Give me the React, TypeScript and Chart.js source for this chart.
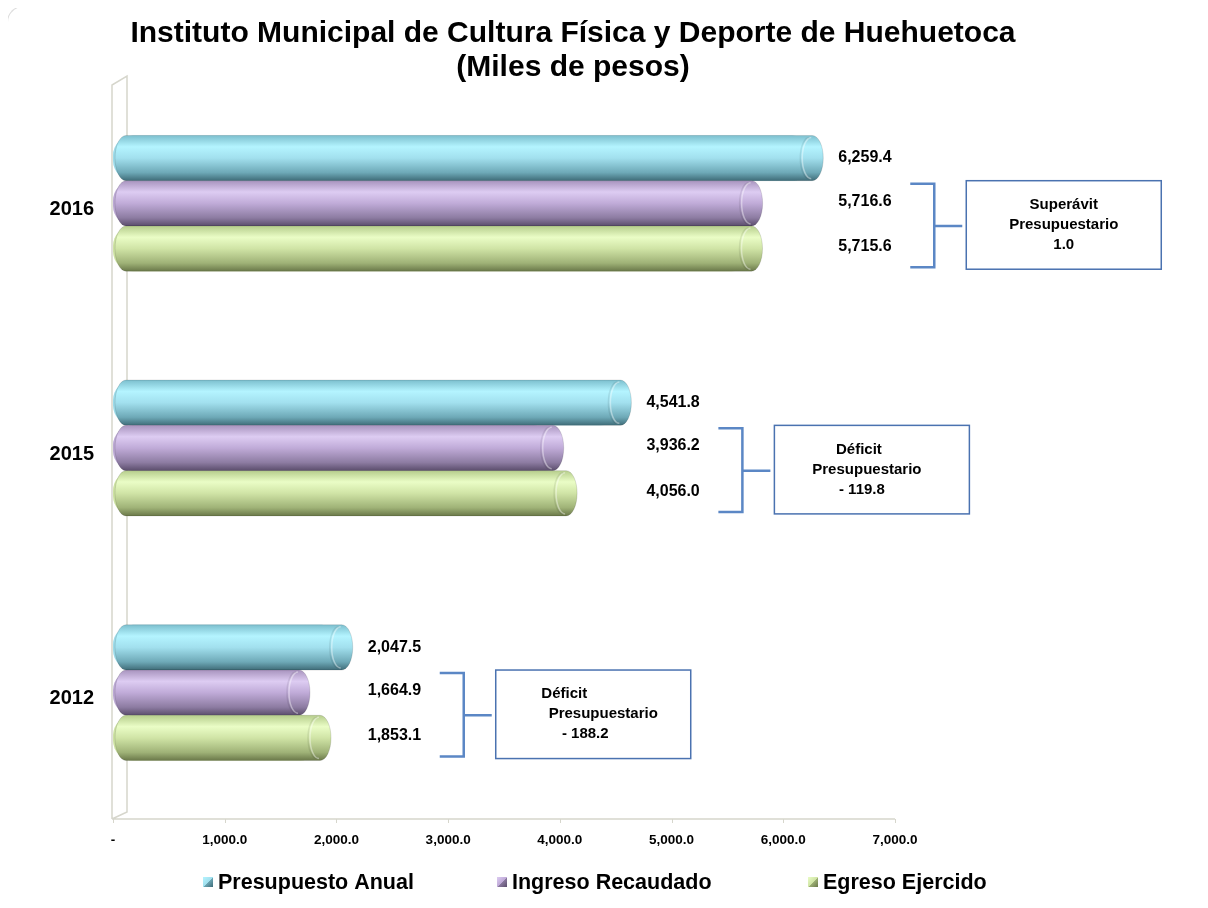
import React, { useEffect, useRef } from "react";
import { Chart, registerables } from "chart.js";

Chart.register(...registerables);

const categories = ["2016", "2015", "2012"];
const seriesNames = ["Presupuesto Anual", "Ingreso Recaudado", "Egreso Ejercido"];
const presupuestoAnual = [6259.4, 4541.8, 2047.5];
const ingresoRecaudado = [5716.6, 3936.2, 1664.9];
const egresoEjercido = [5715.6, 4056.0, 1853.1];
const xTickValues = [0, 1000, 2000, 3000, 4000, 5000, 6000, 7000];
const balanceLabels = [
  ["Superávit", "Presupuestario", "1.0"],
  ["Déficit", "Presupuestario", "- 119.8"],
  ["Déficit", "Presupuestario", "- 188.2"],
];
const titleLines = ["Instituto Municipal de Cultura Física y Deporte de Huehuetoca", "(Miles de pesos)"];

const baseColors = ["#9cdbe9", "#bba8d3", "#cde2a2"];
const gradStops = [
  ["#7cbfce", "#b4f4ff", "#a2e0ee", "#6ea9b7", "#3f6c78"],
  ["#a894be", "#ddccf2", "#c0abd8", "#8d7ca2", "#5b4d6c"],
  ["#b6cd8c", "#eafdc6", "#d0e4a6", "#9fb277", "#6a7849"],
];

function fmt(v: number) {
  if (v === 0) return "-";
  return v.toLocaleString("en-US", { minimumFractionDigits: 1, maximumFractionDigits: 1 });
}

function barGradient(ctx: CanvasRenderingContext2D, s: number, top: number, bot: number) {
  const g = ctx.createLinearGradient(0, top, 0, bot);
  const st = gradStops[s];
  g.addColorStop(0, st[0]);
  g.addColorStop(0.25, st[1]);
  g.addColorStop(0.5, st[2]);
  g.addColorStop(0.82, st[3]);
  g.addColorStop(1, st[4]);
  return g;
}

const FLOOR_DROP = 4;

const decoPlugin = {
  id: "deco",
  beforeDatasetsDraw(chart: any) {
    const { ctx, chartArea } = chart;
    const xs = chart.scales.x;
    const l = chartArea.left - 1;
    const t = chartArea.top + 4;
    const b = chartArea.bottom + FLOOR_DROP;
    ctx.save();
    ctx.strokeStyle = "#d6d6cc";
    ctx.lineWidth = 1.5;
    ctx.beginPath();
    ctx.moveTo(l, b);
    ctx.lineTo(l, t);
    ctx.lineTo(l + 15, t - 9);
    ctx.lineTo(l + 15, b - 7);
    ctx.lineTo(l, b);
    ctx.moveTo(l, b);
    ctx.lineTo(chartArea.right, b);
    ctx.stroke();
    ctx.lineWidth = 1;
    ctx.beginPath();
    xTickValues.forEach((v) => {
      const px = Math.round(xs.getPixelForValue(v)) + 0.5;
      ctx.moveTo(px, b);
      ctx.lineTo(px, b + 4);
    });
    ctx.stroke();
    ctx.restore();
  },
  afterDatasetsDraw(chart: any) {
    const ctx: CanvasRenderingContext2D = chart.ctx;
    chart.data.datasets.forEach((_ds: any, s: number) => {
      const meta = chart.getDatasetMeta(s);
      meta.data.forEach((el: any) => {
        const { x, y, base, height } = el.getProps(["x", "y", "base", "height"], true);
        const h = height;
        const top = y - h / 2;
        const bot = y + h / 2;
        const rx = 11;
        const left = base + 2;
        ctx.save();
        ctx.beginPath();
        ctx.moveTo(left + rx, top);
        ctx.lineTo(x, top);
        ctx.ellipse(x, y, rx, h / 2, 0, -Math.PI / 2, Math.PI / 2);
        ctx.lineTo(left + rx, bot);
        ctx.ellipse(left + rx, y, rx, h / 2, 0, Math.PI / 2, (3 * Math.PI) / 2);
        ctx.closePath();
        ctx.fillStyle = barGradient(ctx, s, top, bot);
        ctx.fill();
        ctx.strokeStyle = "rgba(0,0,0,0.12)";
        ctx.lineWidth = 1;
        ctx.stroke();
        ctx.beginPath();
        ctx.ellipse(x - 1, y, rx - 2, h / 2 - 2, 0, Math.PI / 2, (3 * Math.PI) / 2);
        ctx.strokeStyle = "rgba(255,255,255,0.4)";
        ctx.lineWidth = 1.5;
        ctx.stroke();
        ctx.beginPath();
        ctx.ellipse(x - 3, y, rx - 2, h / 2 - 2, 0, Math.PI / 2, (3 * Math.PI) / 2);
        ctx.strokeStyle = "rgba(0,0,0,0.08)";
        ctx.lineWidth = 1.5;
        ctx.stroke();
        ctx.restore();
      });
    });
  },
  afterDraw(chart: any) {
    const ctx: CanvasRenderingContext2D = chart.ctx;
    const xs = chart.scales.x;
    const metas = [0, 1, 2].map((s) => chart.getDatasetMeta(s));
    ctx.save();
    ctx.fillStyle = "#000";
    categories.forEach((_c, i) => {
      const vals = chart.data.datasets.map((d: any) => d.data[i]);
      const maxPx = xs.getPixelForValue(Math.max(...vals));
      const lx = maxPx + 26;
      ctx.font = "bold 16px Arial, 'Liberation Sans', sans-serif";
      ctx.textAlign = "left";
      ctx.textBaseline = "middle";
      metas.forEach((m, s) => {
        const el = m.data[i];
        ctx.fillText(fmt(vals[s]), lx, el.y - (s === 0 ? 0 : 2));
      });
      const p = metas[1].data[i];
      const g = metas[2].data[i];
      const h = p.height;
      const topY = p.y - h / 2 + 3;
      const botY = g.y + h / 2 - 4;
      const midY = (p.y + g.y) / 2;
      const x0 = maxPx + 98;
      const vx = x0 + 24;
      ctx.strokeStyle = "#5b87c5";
      ctx.lineWidth = 2.5;
      ctx.beginPath();
      ctx.moveTo(x0, topY);
      ctx.lineTo(vx, topY);
      ctx.lineTo(vx, botY);
      ctx.lineTo(x0, botY);
      ctx.moveTo(vx, midY);
      ctx.lineTo(vx + 28, midY);
      ctx.stroke();
      const bx = x0 + 56;
      const by = p.y - h / 2;
      const bw = 195;
      const bh = g.y + h / 2 - 2 - by;
      ctx.fillStyle = "#fff";
      ctx.fillRect(bx, by, bw, bh);
      ctx.strokeStyle = "#4a72b0";
      ctx.lineWidth = 1.5;
      ctx.strokeRect(bx, by, bw, bh);
      const dxs = [
        [0, 0, 0],
        [-13, -5, -10],
        [-29, 10, -8],
      ][i];
      ctx.fillStyle = "#000";
      ctx.font = "bold 15px Arial, 'Liberation Sans', sans-serif";
      ctx.textAlign = "center";
      balanceLabels[i].forEach((line, k) => {
        ctx.fillText(line, bx + bw / 2 + dxs[k], by + bh / 2 + (k - 1) * 20);
      });
    });
    ctx.font = "bold 30px Arial, 'Liberation Sans', sans-serif";
    ctx.textAlign = "center";
    ctx.textBaseline = "middle";
    ctx.fillText(titleLines[0], 565, 26);
    ctx.fillText(titleLines[1], 565, 60);
    ctx.font = "bold 21.5px Arial, 'Liberation Sans', sans-serif";
    ctx.textAlign = "left";
    const markerXs = [195, 489, 800];
    const cy = 874;
    seriesNames.forEach((name, s) => {
      const mx = markerXs[s];
      const gr = ctx.createLinearGradient(mx, cy - 5, mx + 10, cy + 5);
      gr.addColorStop(0, gradStops[s][1]);
      gr.addColorStop(0.5, gradStops[s][2]);
      gr.addColorStop(0.51, gradStops[s][3]);
      gr.addColorStop(1, gradStops[s][4]);
      ctx.fillStyle = gr;
      ctx.fillRect(mx, cy - 5, 10, 10);
      ctx.fillStyle = "#000";
      ctx.fillText(name, mx + 15, cy + 1);
    });
    ctx.restore();
  },
};

export default function App() {
  const ref = useRef<HTMLCanvasElement | null>(null);
  useEffect(() => {
    if (!ref.current) return;
    const chart = new Chart(ref.current, {
      type: "bar",
      data: {
        labels: categories,
        datasets: [
          { label: seriesNames[0], data: presupuestoAnual, backgroundColor: baseColors[0] },
          { label: seriesNames[1], data: ingresoRecaudado, backgroundColor: baseColors[1] },
          { label: seriesNames[2], data: egresoEjercido, backgroundColor: baseColors[2] },
        ],
      },
      options: {
        indexAxis: "y",
        responsive: false,
        animation: false,
        events: [],
        layout: { padding: { top: 73, right: 305, bottom: 0, left: 0 } },
        datasets: {
          bar: {
            categoryPercentage: 0.555,
            barPercentage: 1,
            borderRadius: 20,
            borderSkipped: false,
          },
        },
        plugins: {
          legend: { display: false },
          title: { display: false },
          tooltip: { enabled: false },
        },
        scales: {
          x: {
            type: "linear",
            min: 0,
            max: 7000,
            afterBuildTicks: (scale: any) => {
              scale.ticks = xTickValues.map((v) => ({ value: v }));
            },
            afterFit: (scale: any) => {
              scale.height = 85;
              scale.paddingLeft = 0;
              scale.paddingRight = 0;
            },
            grid: { display: false },
            border: { display: false },
            ticks: {
              padding: 9,
              color: "#000",
              font: { family: "Arial, 'Liberation Sans', sans-serif", size: 13.5, weight: "bold" },
              callback: (v: any) => fmt(Number(v)),
            },
          },
          y: {
            afterFit: (scale: any) => {
              scale.width = 105;
              scale.paddingTop = 0;
              scale.paddingBottom = 0;
            },
            grid: { display: false },
            border: { display: false },
            ticks: {
              padding: 11,
              labelOffset: 6,
              color: "#000",
              font: { family: "Arial, 'Liberation Sans', sans-serif", size: 20, weight: "bold" },
            },
          },
        },
      },
      plugins: [decoPlugin],
    } as any);
    return () => chart.destroy();
  }, []);
  return (
    <div style={{ position: "relative", width: 1192, height: 892 }}>
      <canvas ref={ref} width={1192} height={892} style={{ display: "block" }} />
      <div
        style={{
          position: "absolute",
          top: -2,
          left: -1,
          width: 1198,
          height: 898,
          borderTop: "1px solid #dcdcdc",
          borderLeft: "1px solid #dcdcdc",
          borderTopLeftRadius: 16,
          pointerEvents: "none",
        }}
      />
    </div>
  );
}
